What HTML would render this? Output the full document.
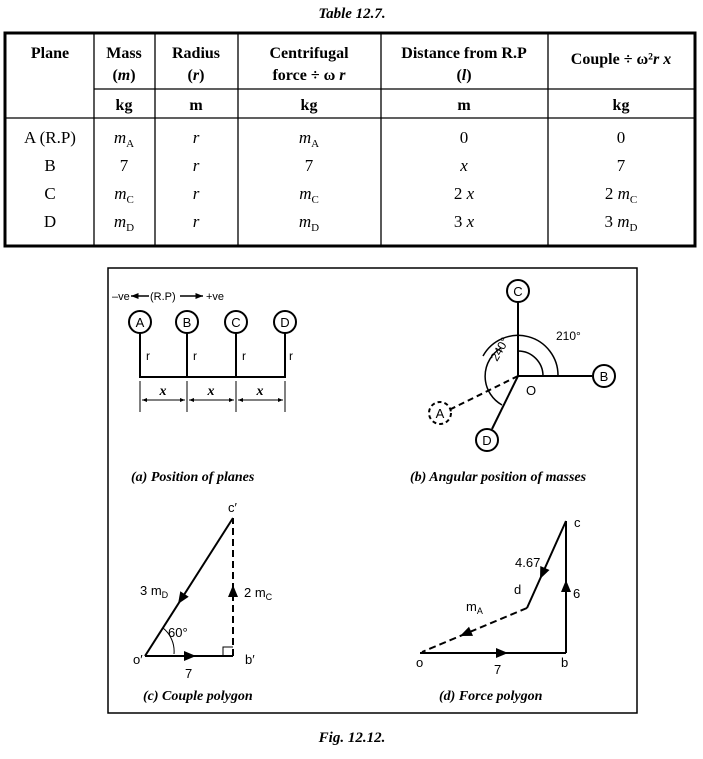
<!DOCTYPE html>
<html><head><meta charset="utf-8"><style>
body{margin:0;background:#fff;width:703px;height:754px;overflow:hidden;font-family:"Liberation Serif",serif;}
svg text{font-family:"Liberation Sans",sans-serif;}
.t{font-family:"Liberation Serif",serif;}
</style></head><body>
<svg width="703" height="754" viewBox="0 0 703 754" xmlns="http://www.w3.org/2000/svg">
<defs>
<marker id="sa" viewBox="0 0 10 10" refX="10" refY="5" markerWidth="5" markerHeight="5" orient="auto-start-reverse"><path d="M0,1 L10,5 L0,9 Z" fill="#000"/></marker>
</defs>
<text class="t" x="352" y="18" text-anchor="middle" font-size="15" font-weight="bold" font-style="italic">Table 12.7.</text>
<rect x="5" y="33" width="690" height="213" fill="none" stroke="#000" stroke-width="3"/>
<g stroke="#000" stroke-width="1.3">
<line x1="94" y1="33" x2="94" y2="246"/><line x1="155" y1="33" x2="155" y2="246"/>
<line x1="238" y1="33" x2="238" y2="246"/><line x1="381" y1="33" x2="381" y2="246"/>
<line x1="548" y1="33" x2="548" y2="246"/>
<line x1="94" y1="89" x2="695" y2="89"/><line x1="5" y1="118" x2="695" y2="118"/>
</g>
<g class="t" font-size="16" text-anchor="middle" font-weight="bold">
<text class="t" x="50" y="58">Plane</text>
<text class="t" x="124" y="58">Mass</text><text class="t" x="124" y="80">(<tspan font-style="italic">m</tspan>)</text>
<text class="t" x="196" y="58">Radius</text><text class="t" x="196" y="80">(<tspan font-style="italic">r</tspan>)</text>
<text class="t" x="309" y="58">Centrifugal</text><text class="t" x="309" y="80">force ÷ ω <tspan font-style="italic">r</tspan></text>
<text class="t" x="464" y="58">Distance from R.P</text><text class="t" x="464" y="80">(<tspan font-style="italic">l</tspan>)</text>
<text class="t" x="621" y="64">Couple ÷ ω²<tspan font-style="italic">r x</tspan></text>
<text class="t" x="124" y="110">kg</text><text class="t" x="196" y="110">m</text><text class="t" x="309" y="110">kg</text><text class="t" x="464" y="110">m</text><text class="t" x="621" y="110">kg</text>
</g>
<g class="t" font-size="17" text-anchor="middle">
<text class="t" x="50" y="143">A (R.P)</text><text class="t" x="50" y="171">B</text><text class="t" x="50" y="199">C</text><text class="t" x="50" y="227">D</text>
<text class="t" x="124" y="143"><tspan font-style="italic">m</tspan><tspan font-size="11" dy="4">A</tspan></text>
<text class="t" x="124" y="171">7</text>
<text class="t" x="124" y="199"><tspan font-style="italic">m</tspan><tspan font-size="11" dy="4">C</tspan></text>
<text class="t" x="124" y="227"><tspan font-style="italic">m</tspan><tspan font-size="11" dy="4">D</tspan></text>
<g font-style="italic"><text class="t" x="196" y="143">r</text><text class="t" x="196" y="171">r</text><text class="t" x="196" y="199">r</text><text class="t" x="196" y="227">r</text></g>
<text class="t" x="309" y="143"><tspan font-style="italic">m</tspan><tspan font-size="11" dy="4">A</tspan></text>
<text class="t" x="309" y="171">7</text>
<text class="t" x="309" y="199"><tspan font-style="italic">m</tspan><tspan font-size="11" dy="4">C</tspan></text>
<text class="t" x="309" y="227"><tspan font-style="italic">m</tspan><tspan font-size="11" dy="4">D</tspan></text>
<text class="t" x="464" y="143">0</text><text class="t" x="464" y="171" font-style="italic">x</text>
<text class="t" x="464" y="199">2 <tspan font-style="italic">x</tspan></text><text class="t" x="464" y="227">3 <tspan font-style="italic">x</tspan></text>
<text class="t" x="621" y="143">0</text><text class="t" x="621" y="171">7</text>
<text class="t" x="621" y="199">2 <tspan font-style="italic">m</tspan><tspan font-size="11" dy="4">C</tspan></text>
<text class="t" x="621" y="227">3 <tspan font-style="italic">m</tspan><tspan font-size="11" dy="4">D</tspan></text>
</g>
<rect x="108" y="268" width="529" height="445" fill="none" stroke="#000" stroke-width="1.5"/>
<!-- (a) -->
<g font-size="11">
<text x="112" y="300">–ve</text><text x="150" y="300">(R.P)</text><text x="206" y="300">+ve</text>
</g>
<line x1="149" y1="296" x2="131" y2="296" stroke="#000" stroke-width="1.5" marker-end="url(#sa)"/>
<line x1="180" y1="296" x2="203" y2="296" stroke="#000" stroke-width="1.5" marker-end="url(#sa)"/>
<g stroke="#000" stroke-width="2" fill="#fff">
<circle cx="140" cy="322" r="11"/><circle cx="187" cy="322" r="11"/><circle cx="236" cy="322" r="11"/><circle cx="285" cy="322" r="11"/>
<path d="M140,333 V377 H285 V333 M187,333 V377 M236,333 V377" fill="none"/>
</g>
<g font-size="13" text-anchor="middle"><text x="140" y="327">A</text><text x="187" y="327">B</text><text x="236" y="327">C</text><text x="285" y="327">D</text></g>
<g font-size="12"><text x="146" y="360">r</text><text x="193" y="360">r</text><text x="242" y="360">r</text><text x="289" y="360">r</text></g>
<g stroke="#000" stroke-width="1">
<line x1="140" y1="381" x2="140" y2="412"/><line x1="187" y1="381" x2="187" y2="412"/><line x1="236" y1="381" x2="236" y2="412"/><line x1="285" y1="381" x2="285" y2="412"/>
<line x1="142" y1="400" x2="185" y2="400" marker-start="url(#sa)" marker-end="url(#sa)"/>
<line x1="189" y1="400" x2="234" y2="400" marker-start="url(#sa)" marker-end="url(#sa)"/>
<line x1="238" y1="400" x2="283" y2="400" marker-start="url(#sa)" marker-end="url(#sa)"/>
</g>
<g class="t" font-size="14" font-style="italic" font-weight="bold" text-anchor="middle"><text class="t" x="163" y="395">x</text><text class="t" x="211" y="395">x</text><text class="t" x="260" y="395">x</text></g>
<text class="t" x="131" y="481" font-size="14" font-weight="bold" font-style="italic">(a) Position of planes</text>
<!-- (b) -->
<g stroke="#000" stroke-width="2" fill="none">
<line x1="518" y1="376" x2="518" y2="302"/>
<line x1="518" y1="376" x2="592" y2="376"/>
<line x1="518" y1="376" x2="492" y2="429"/>
<line x1="518" y1="376" x2="451" y2="409" stroke-dasharray="6,4"/>
<circle cx="518" cy="291" r="11" fill="#fff"/><circle cx="604" cy="376" r="11" fill="#fff"/><circle cx="487" cy="440" r="11" fill="#fff"/>
<circle cx="440" cy="413" r="11" fill="#fff" stroke-dasharray="4,3"/>
<path d="M558,376 A40,40 0 0 0 483,356" stroke-width="1.5"/>
<path d="M543,376 A25,25 0 0 0 518,351" stroke-width="1.5"/>
<path d="M501,348 A33,33 0 0 0 502,405" stroke-width="1.5"/>
</g>
<g font-size="13" text-anchor="middle"><text x="518" y="296">C</text><text x="604" y="381">B</text><text x="487" y="445">D</text><text x="440" y="418">A</text></g>
<text x="526" y="395" font-size="13">O</text>
<text x="556" y="340" font-size="12">210°</text>
<text x="0" y="0" font-size="12" transform="translate(497,362) rotate(-60)">240°</text>
<text class="t" x="410" y="481" font-size="14" font-weight="bold" font-style="italic">(b) Angular position of masses</text>
<!-- (c) -->
<g stroke="#000" stroke-width="2" fill="none">
<line x1="145" y1="656" x2="233" y2="656"/>
<line x1="233" y1="656" x2="233" y2="518" stroke-dasharray="7,4"/>
<line x1="233" y1="518" x2="145" y2="656"/>
<path d="M223,656 V647 H233" stroke-width="1"/>
<path d="M163,628 A30,30 0 0 1 174,654" stroke-width="1"/>
</g>
<path d="M196,656 l-12,-5 v10 z" fill="#000"/>
<path d="M233,585 l-5,12 h10 z" fill="#000"/>
<path d="M178,604 L188.7,596.7 L180.3,591.3 Z" fill="#000"/>
<g font-size="13"><text x="228" y="512">c′</text><text x="133" y="664">o′</text><text x="245" y="664">b′</text><text x="185" y="678">7</text>
<text x="140" y="595">3 m<tspan font-size="9" dy="3">D</tspan></text><text x="244" y="597">2 m<tspan font-size="9" dy="3">C</tspan></text><text x="168" y="637">60°</text></g>
<text class="t" x="143" y="700" font-size="14" font-weight="bold" font-style="italic">(c) Couple polygon</text>
<!-- (d) -->
<g stroke="#000" stroke-width="2" fill="none">
<line x1="420" y1="653" x2="566" y2="653"/>
<line x1="566" y1="653" x2="566" y2="521"/>
<line x1="566" y1="521" x2="527" y2="608"/>
<line x1="527" y1="608" x2="422" y2="652" stroke-dasharray="7,4"/>
</g>
<path d="M508,653 l-12,-5 v10 z" fill="#000"/>
<path d="M566,580 l-5,12 h10 z" fill="#000"/>
<path d="M540,579 L549.5,570 L540.3,566 Z" fill="#000"/>
<path d="M460,636 L473,635.9 L469,626.7 Z" fill="#000"/>
<g font-size="13"><text x="574" y="527">c</text><text x="573" y="598">6</text><text x="514" y="594">d</text><text x="515" y="567">4.67</text>
<text x="466" y="611">m<tspan font-size="9" dy="3">A</tspan></text><text x="416" y="667">o</text><text x="561" y="667">b</text><text x="494" y="674">7</text></g>
<text class="t" x="439" y="700" font-size="14" font-weight="bold" font-style="italic">(d) Force polygon</text>
<text class="t" x="352" y="742" text-anchor="middle" font-size="15" font-weight="bold" font-style="italic">Fig. 12.12.</text>
</svg>
</body></html>
